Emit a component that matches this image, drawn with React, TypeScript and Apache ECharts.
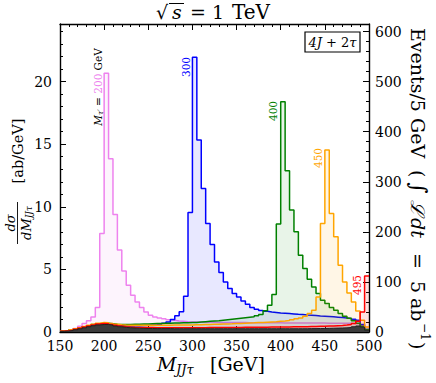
import React, { useEffect, useRef } from 'react';
import * as echarts from 'echarts';

const BIN_LOW = [150,155,160,165,170,175,180,185,190,195,200,205,210,215,220,225,230,235,240,245,250,255,260,265,270,275,280,285,290,295,300,305,310,315,320,325,330,335,340,345,350,355,360,365,370,375,380,385,390,395,400,405,410,415,420,425,430,435,440,445,450,455,460,465,470,475,480,485,490,495];
const BIN_HIGH_LAST = 500;

const X_TICKS = [150, 200, 250, 300, 350, 400, 450, 500];

const BKG = [
  0.05,0.08,0.12,0.18,0.25,0.33,0.42,0.5,0.56,0.6,
  0.6,0.55,0.48,0.42,0.37,0.34,0.32,0.3,0.29,0.28,
  0.28,0.27,0.27,0.27,0.27,0.26,0.26,0.26,0.26,0.26,
  0.26,0.26,0.26,0.26,0.26,0.26,0.26,0.26,0.26,0.26,
  0.26,0.26,0.26,0.26,0.26,0.26,0.26,0.26,0.26,0.26,
  0.26,0.26,0.26,0.26,0.26,0.26,0.27,0.27,0.28,0.28,
  0.29,0.3,0.31,0.32,0.33,0.36,0.42,0.48,0.4,0.15,
];
const M495 = [
  0.06,0.1,0.15,0.22,0.3,0.39,0.48,0.56,0.63,0.67,
  0.66,0.6,0.53,0.47,0.42,0.39,0.37,0.36,0.35,0.35,
  0.35,0.34,0.34,0.34,0.34,0.34,0.34,0.34,0.34,0.34,
  0.34,0.34,0.34,0.35,0.35,0.35,0.35,0.35,0.36,0.36,
  0.36,0.37,0.37,0.37,0.38,0.38,0.38,0.39,0.39,0.4,
  0.4,0.4,0.41,0.41,0.42,0.42,0.43,0.44,0.45,0.46,
  0.47,0.48,0.5,0.52,0.55,0.6,0.68,0.85,1.6,4.48,
];
const M450 = [
  0.07,0.11,0.17,0.25,0.34,0.43,0.53,0.62,0.7,0.75,
  0.74,0.68,0.62,0.58,0.55,0.54,0.53,0.53,0.53,0.53,
  0.53,0.53,0.54,0.54,0.54,0.55,0.55,0.55,0.56,0.56,
  0.57,0.58,0.59,0.6,0.61,0.62,0.63,0.64,0.65,0.67,
  0.68,0.7,0.72,0.73,0.75,0.76,0.78,0.8,0.82,0.85,
  0.88,0.92,0.98,1.05,1.12,1.25,1.47,1.74,2.8,8.67,
  14.54,9.47,7.6,5.34,4.0,3.12,2.4,1.68,0.94,0.4,
];
const M400 = [
  0.06,0.1,0.16,0.23,0.32,0.41,0.5,0.59,0.66,0.7,
  0.7,0.66,0.62,0.6,0.6,0.6,0.61,0.62,0.63,0.64,
  0.66,0.67,0.68,0.69,0.7,0.71,0.72,0.73,0.74,0.75,
  0.76,0.79,0.82,0.85,0.88,0.9,0.94,0.98,1.02,1.06,
  1.1,1.14,1.18,1.22,1.3,1.4,1.7,2.13,3.0,8.62,
  18.4,12.88,9.74,8.0,6.14,5.07,4.22,3.6,3.07,2.54,
  2.27,1.95,1.74,1.47,1.26,1.1,0.9,0.7,0.45,0.2,
];
const M300 = [
  0.06,0.1,0.16,0.23,0.32,0.41,0.5,0.58,0.64,0.67,
  0.66,0.6,0.54,0.5,0.48,0.48,0.49,0.5,0.52,0.54,
  0.56,0.58,0.62,0.7,0.8,1.0,1.3,1.62,2.86,9.55,
  21.95,15.34,11.47,8.67,6.99,5.6,4.75,4.0,3.47,3.07,
  2.8,2.48,2.22,1.95,1.82,1.72,1.65,1.6,1.56,1.52,
  1.5,1.47,1.44,1.41,1.39,1.36,1.34,1.31,1.28,1.26,
  1.24,1.21,1.18,1.15,1.12,1.08,1.02,0.94,0.6,0.2,
];
const M200 = [
  0.07,0.12,0.18,0.28,0.45,0.67,0.9,1.2,1.95,7.87,
  20.67,13.84,9.39,6.54,4.88,3.74,2.94,2.4,1.95,1.6,
  1.34,1.2,1.12,1.05,0.98,0.93,0.88,0.85,0.82,0.8,
  0.79,0.78,0.78,0.77,0.77,0.76,0.76,0.76,0.75,0.75,
  0.75,0.75,0.74,0.74,0.74,0.74,0.73,0.73,0.73,0.73,
  0.72,0.72,0.72,0.72,0.72,0.71,0.71,0.71,0.71,0.71,
  0.7,0.7,0.7,0.7,0.7,0.7,0.68,0.65,0.5,0.2,
];

const FONT = "'DejaVu Serif', 'Liberation Serif', serif";

function hist(values: number[]) {
  const pts: number[][] = BIN_LOW.map((x, i) => [x, values[i]]);
  pts.push([BIN_HIGH_LAST, values[values.length - 1]]);
  return pts;
}

function stepSeries(name: string, values: number[], color: string, fill: string, z: number) {
  return {
    name,
    type: 'line',
    step: 'end',
    xAxisIndex: 0,
    yAxisIndex: 0,
    data: hist(values),
    symbol: 'none',
    z,
    lineStyle: { color, width: 1.5 },
    areaStyle: { color: fill, origin: 'start' },
    emphasis: { disabled: true },
  };
}

function txt(x: number, y: number, text: string, size: number, opts: any = {}) {
  return {
    type: 'text', x, y, z: 100,
    style: {
      text, fontSize: size, fontFamily: FONT, fill: opts.fill || '#000',
      fontStyle: opts.italic ? 'italic' : 'normal',
      align: opts.align || 'left', verticalAlign: 'middle',
    },
  };
}

export default function App() {
  const ref = useRef<HTMLDivElement>(null);
  useEffect(() => {
    document.body.style.margin = '0';
    const chart = echarts.init(ref.current!, null, { renderer: 'svg' });
    const axisLine = { show: true, onZero: false, lineStyle: { color: '#000', width: 1.4 } };
    const majTick = { show: true, inside: true, length: 6, lineStyle: { color: '#000', width: 1 } };
    const minTick = { show: true, inside: true, length: 3, lineStyle: { color: '#000', width: 1 } };
    const label = { color: '#000', fontSize: 14, fontFamily: FONT };
    const option = {
      animation: false,
      grid: { left: 60, right: 67, top: 24, bottom: 51 },
      xAxis: [
        {
          type: 'value', min: X_TICKS[0], max: X_TICKS[X_TICKS.length - 1], interval: 50, position: 'bottom',
          axisLine, axisTick: majTick,
          minorTick: { show: true, splitNumber: 5, length: 3, lineStyle: { color: '#000' } },
          splitLine: { show: false }, minorSplitLine: { show: false },
          axisLabel: { ...label, margin: 7 },
        },
        {
          type: 'value', min: X_TICKS[0], max: X_TICKS[X_TICKS.length - 1], interval: 50, position: 'top',
          axisLine, axisTick: majTick,
          minorTick: { show: true, splitNumber: 5, length: 3, lineStyle: { color: '#000' } },
          splitLine: { show: false }, axisLabel: { show: false },
        },
      ],
      yAxis: [
        {
          type: 'value', min: 0, max: 24.6, interval: 5, position: 'left',
          axisLine, axisTick: majTick, splitLine: { show: false },
          axisLabel: { ...label, margin: 8, formatter: (v: number) => (Math.abs(v % 5) < 1e-6 ? String(v) : '') },
        },
        {
          type: 'value', min: 0, max: 24.6, interval: 1, position: 'left',
          axisLine: { show: false }, axisTick: minTick, splitLine: { show: false }, axisLabel: { show: false },
        },
        {
          type: 'value', min: 0, max: 615, interval: 100, position: 'right',
          axisLine, axisTick: majTick, splitLine: { show: false },
          axisLabel: { ...label, margin: 6, formatter: (v: number) => (Math.abs(v % 100) < 1e-6 ? String(v) : '') },
        },
        {
          type: 'value', min: 0, max: 615, interval: 20, position: 'right',
          axisLine: { show: false }, axisTick: minTick, splitLine: { show: false }, axisLabel: { show: false },
        },
      ],
      series: [
        stepSeries('200', M200, '#ee82ee', 'rgba(238,130,238,0.13)', 2),
        stepSeries('300', M300, '#0000ff', 'rgba(0,0,255,0.13)', 3),
        stepSeries('400', M400, '#008000', 'rgba(0,128,0,0.13)', 4),
        stepSeries('450', M450, '#ffa500', 'rgba(255,165,0,0.14)', 5),
        stepSeries('495', M495, '#ff0000', 'rgba(255,0,0,0.16)', 6),
        {
          name: 'bkg', type: 'line', step: 'end', data: hist(BKG), symbol: 'none', z: 7,
          lineStyle: { color: '#222', width: 1 }, areaStyle: { color: '#3c3c3c', opacity: 1, origin: 'start' },
        },
      ],
      graphic: [
        // title: sqrt(s) = 1 TeV
        txt(156, 12, '√', 19),
        { type: 'line', z: 100, shape: { x1: 169, y1: 3.5, x2: 184, y2: 3.5 }, style: { stroke: '#000', lineWidth: 1 } },
        txt(172, 12, 's', 19, { italic: true }),
        txt(198, 12, '=', 19, { align: 'center' }),
        txt(218, 12, '1', 19, { align: 'center' }),
        txt(232, 12, 'TeV', 20),
        // channel box
        {
          type: 'rect', z: 100, shape: { x: 305, y: 32, width: 55, height: 20 },
          style: { fill: '#fff', stroke: '#000', lineWidth: 1.2 },
        },
        {
          type: 'text', x: 332.5, y: 42.5, z: 101,
          style: {
            text: '{i|4J}{n| + 2}{i|τ}', align: 'center', verticalAlign: 'middle',
            rich: {
              n: { fontSize: 13, fontFamily: FONT, fill: '#000' },
              i: { fontSize: 13, fontFamily: FONT, fontStyle: 'italic', fill: '#000' },
            },
          },
        },
        // left axis name (rotated, reads bottom to top)
        {
          type: 'group', x: 18, y: 250, rotation: Math.PI / 2, z: 100,
          children: [
            { ...txt(99, 0, '[ab/GeV]', 14.5, { align: 'center' }) },
            { ...txt(27, -8, 'dσ', 13, { italic: true, align: 'center' }) },
            { type: 'line', z: 100, shape: { x1: 6, y1: -0.5, x2: 48, y2: -0.5 }, style: { stroke: '#000', lineWidth: 0.9 } },
            {
              type: 'text', x: 27, y: 8, z: 100,
              style: {
                text: '{i|dM}{s|JJτ}', align: 'center', verticalAlign: 'middle',
                rich: {
                  i: { fontSize: 13, fontFamily: FONT, fontStyle: 'italic', fill: '#000' },
                  s: { fontSize: 9, fontFamily: FONT, fontStyle: 'italic', fill: '#000', padding: [5, 0, 0, 0] },
                },
              },
            },
          ],
        },
        // right axis name (rotated, reads top to bottom)
        {
          type: 'group', x: 418, y: 28, rotation: -Math.PI / 2, z: 100,
          children: [
            txt(0, 0, 'Events/5 GeV', 19),
            txt(142, 0, '(', 19),
            txt(154, 0, '∫', 22),
            txt(172, 0, 'ℒ', 19, { italic: true }),
            txt(190, 0, 'dt', 19, { italic: true }),
            txt(225, 0, '=', 19),
            txt(253, 0, '5', 19),
            txt(270, 0, 'ab', 19),
            txt(295, -7, '−1', 12),
            txt(314, 0, ')', 19),
          ],
        },
        // x axis name
        txt(157, 364, 'M', 19, { italic: true }),
        txt(176, 369, 'JJτ', 13, { italic: true }),
        txt(210, 364, '[GeV]', 19),
        // peak annotations
        {
          type: 'text', x: 98, y: 87, rotation: Math.PI / 2, z: 100,
          style: {
            text: '{i|M}{s|τ′}{k| = }{v|200}{k| GeV}', align: 'center', verticalAlign: 'middle',
            rich: {
              i: { fontSize: 10.5, fontFamily: FONT, fontStyle: 'italic', fill: '#000' },
              s: { fontSize: 7.5, fontFamily: FONT, fontStyle: 'italic', fill: '#000', padding: [4, 0, 0, 0] },
              k: { fontSize: 10.5, fontFamily: FONT, fill: '#000' },
              v: { fontSize: 10.5, fontFamily: FONT, fill: '#ee82ee' },
            },
          },
        },
        { ...txt(186, 67, '300', 10.5, { fill: '#0000ff', align: 'center' }), rotation: Math.PI / 2 },
        { ...txt(273, 111, '400', 10.5, { fill: '#008000', align: 'center' }), rotation: Math.PI / 2 },
        { ...txt(317.5, 158, '450', 10.5, { fill: '#ffa500', align: 'center' }), rotation: Math.PI / 2 },
        { ...txt(357, 285, '495', 10.5, { fill: '#ff0000', align: 'center' }), rotation: Math.PI / 2 },
      ],
    };
    chart.setOption(option as any);
    return () => chart.dispose();
  }, []);
  return <div ref={ref} style={{ width: 436, height: 383 }} />;
}
